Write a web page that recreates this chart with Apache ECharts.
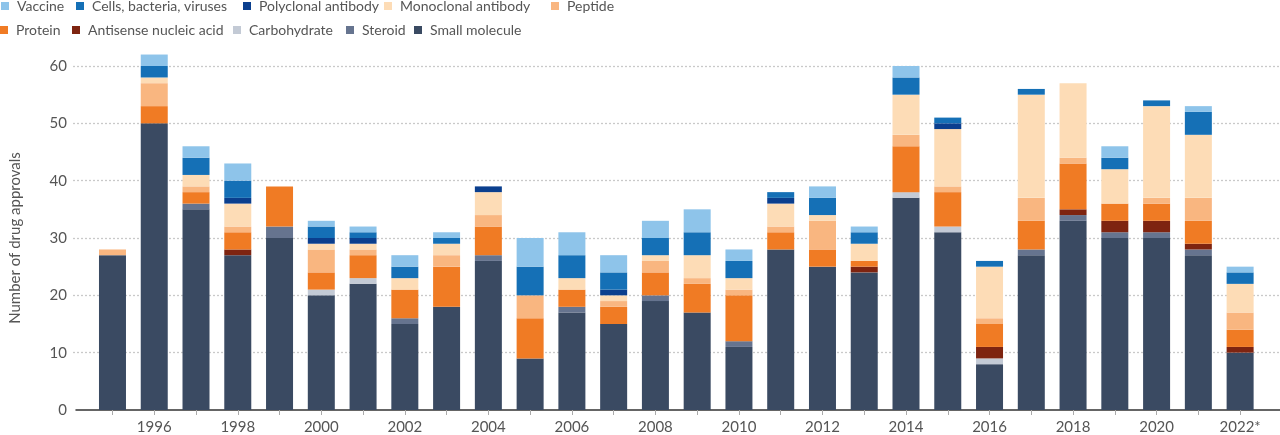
<!DOCTYPE html>
<html>
<head>
<meta charset="utf-8">
<script src="https://cdn.jsdelivr.net/npm/echarts@6/dist/echarts.min.js"></script>
<style>
html,body{margin:0;padding:0;background:#fff;}
#chart{width:1280px;height:435px;}
</style>
</head>
<body>
<div id="chart"></div>
<script>
const years = ['1995','1996','1997','1998','1999','2000','2001','2002','2003','2004','2005','2006','2007','2008','2009','2010','2011','2012','2013','2014','2015','2016','2017','2018','2019','2020','2021','2022*'];
const yTicks = [0, 10, 20, 30, 40, 50, 60];

const smallMolecule = [27,50,35,27,30,20,22,15,18,26, 9,17,15,19,17,11,28,25,24,37,31, 8,27,33,30,30,27,10];
const steroid       = [ 0, 0, 1, 0, 2, 0, 0, 1, 0, 1, 0, 1, 0, 1, 0, 1, 0, 0, 0, 0, 0, 0, 1, 1, 1, 1, 1, 0];
const carbohydrate  = [ 0, 0, 0, 0, 0, 1, 1, 0, 0, 0, 0, 0, 0, 0, 0, 0, 0, 0, 0, 1, 1, 1, 0, 0, 0, 0, 0, 0];
const antisense     = [ 0, 0, 0, 1, 0, 0, 0, 0, 0, 0, 0, 0, 0, 0, 0, 0, 0, 0, 1, 0, 0, 2, 0, 1, 2, 2, 1, 1];
const protein       = [ 0, 3, 2, 3, 7, 3, 4, 5, 7, 5, 7, 3, 3, 4, 5, 8, 3, 3, 1, 8, 6, 4, 5, 8, 3, 3, 4, 3];
const peptide       = [ 1, 4, 1, 1, 0, 4, 1, 0, 2, 2, 4, 0, 1, 2, 1, 1, 1, 5, 0, 2, 1, 1, 4, 1, 0, 1, 4, 3];
const monoclonal    = [ 0, 1, 2, 4, 0, 1, 1, 2, 2, 4, 0, 2, 1, 1, 4, 2, 4, 1, 3, 7,10, 9,18,13, 6,16,11, 5];
const polyclonal    = [ 0, 0, 0, 1, 0, 1, 1, 0, 0, 1, 0, 0, 1, 0, 0, 0, 1, 0, 0, 0, 1, 0, 0, 0, 0, 0, 0, 0];
const cells         = [ 0, 2, 3, 3, 0, 2, 1, 2, 1, 0, 5, 4, 3, 3, 4, 3, 1, 3, 2, 3, 1, 1, 1, 0, 2, 1, 4, 2];
const vaccine       = [ 0, 2, 2, 3, 0, 1, 1, 2, 1, 0, 5, 4, 3, 3, 4, 2, 0, 2, 1, 2, 0, 0, 0, 0, 2, 0, 1, 1];

const FONT = 'Lato, "Open Sans", sans-serif';
const TEXT = '#555';

const seriesDefs = [
  ['Small molecule', smallMolecule, '#3a4a62'],
  ['Steroid', steroid, '#66748f'],
  ['Carbohydrate', carbohydrate, '#c3cad5'],
  ['Antisense nucleic acid', antisense, '#7e2410'],
  ['Protein', protein, '#f07b24'],
  ['Peptide', peptide, '#f9b680'],
  ['Monoclonal antibody', monoclonal, '#fddcb6'],
  ['Polyclonal antibody', polyclonal, '#0b3f8e'],
  ['Cells, bacteria, viruses', cells, '#1570b6'],
  ['Vaccine', vaccine, '#8ec4ea']
];
const colorOf = {};
seriesDefs.forEach(d => colorOf[d[0]] = d[2]);

const legendPos = [
  ['Vaccine', 1, -1], ['Cells, bacteria, viruses', 76, -1], ['Polyclonal antibody', 243, -1],
  ['Monoclonal antibody', 384, -1], ['Peptide', 551, -1],
  ['Protein', 0, 23], ['Antisense nucleic acid', 72, 23], ['Carbohydrate', 233, 23],
  ['Steroid', 346, 23], ['Small molecule', 414, 23]
];

const option = {
  animation: false,
  backgroundColor: '#fff',
  textStyle: { fontFamily: FONT },
  legend: legendPos.map(p => ({
    data: [{ name: p[0], itemStyle: { color: colorOf[p[0]] } }],
    left: p[1], top: p[2], padding: 0,
    icon: 'rect', itemWidth: 8, itemHeight: 8,
    selectedMode: false,
    textStyle: { color: TEXT, fontSize: 14, fontFamily: FONT, padding: [0, 0, 0, 3] }
  })),
  grid: [
    { left: 91.6, right: 19, top: 66, bottom: 25 },
    { left: 63, right: 0, top: 66, bottom: 25 },
    { left: 76, right: 0, top: 66, bottom: 25 }
  ],
  xAxis: [
    {
      gridIndex: 0, type: 'category', data: years,
      axisLine: { show: false },
      axisTick: { show: true, alignWithLabel: true, interval: 0, length: 5, lineStyle: { color: '#aaa' } },
      axisLabel: { interval: (i) => i % 2 === 1, color: TEXT, fontSize: 15, margin: 10, fontFamily: FONT }
    },
    { gridIndex: 1, type: 'value', show: false },
    {
      gridIndex: 2, type: 'value', min: 0, max: 1,
      axisLine: { show: true, lineStyle: { color: '#333', width: 1.5 } },
      axisTick: { show: false }, axisLabel: { show: false }, splitLine: { show: false }
    }
  ],
  yAxis: [
    { gridIndex: 0, type: 'value', min: 0, max: 60, show: false },
    {
      gridIndex: 1, type: 'value', min: yTicks[0], max: yTicks[yTicks.length - 1], interval: 10,
      axisLine: { show: false }, axisTick: { show: false },
      axisLabel: { color: TEXT, fontSize: 15, margin: 6, fontFamily: FONT },
      splitLine: { show: true, showMinLine: false, lineStyle: { type: [2, 2], color: '#c9c9c9', width: 1.3 } },
      name: 'Number of drug approvals', nameLocation: 'middle', nameGap: 50,
      nameTextStyle: { color: TEXT, fontSize: 15, fontFamily: FONT }
    },
    { gridIndex: 2, type: 'value', min: 0, max: 1, show: false }
  ],
  series: seriesDefs.map(d => ({
    name: d[0], type: 'bar', stack: 'total',
    xAxisIndex: 0, yAxisIndex: 0,
    barWidth: 27, clip: false,
    itemStyle: { color: d[2] },
    emphasis: { disabled: true },
    data: d[1]
  }))
};

const chart = echarts.init(document.getElementById('chart'), null, { renderer: 'canvas' });
chart.setOption(option);
</script>
</body>
</html>
